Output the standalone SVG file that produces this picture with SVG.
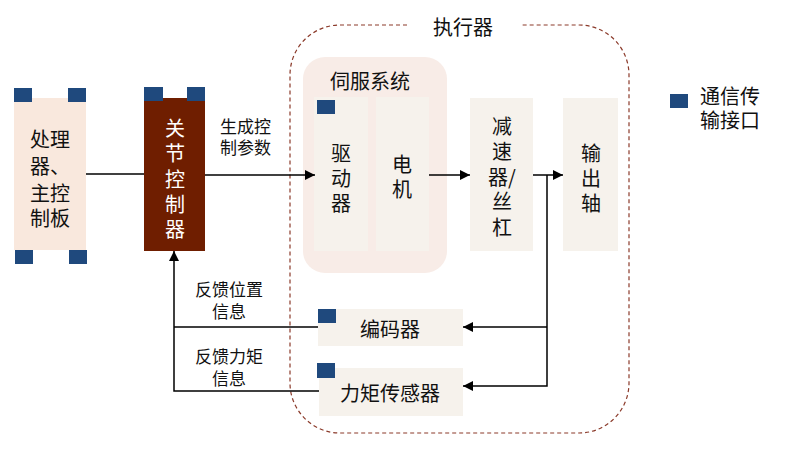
<svg xmlns="http://www.w3.org/2000/svg" width="785" height="451" viewBox="0 0 785 451">
<style>
text{font-family:"Noto Sans CJK SC","Noto Sans",sans-serif;fill:#111;text-anchor:middle;dominant-baseline:central}
.t20{font-size:20px}
.t18{font-size:17px}
.w{fill:#fff}
.port{fill:#1F497D}
.box{fill:#F6F2EC}
.ln{stroke:#000;stroke-width:1.5;fill:none}
</style>
<defs>
<marker id="ah" viewBox="0 0 10 10" refX="10" refY="5" markerWidth="10" markerHeight="10" markerUnits="userSpaceOnUse" orient="auto">
<path d="M0,0L10,5L0,10z" fill="#000"/>
</marker>
</defs>
<rect width="785" height="451" fill="#fff"/>
<g id="executor">
<path d="M407,25 H340 A50,50 0 0 0 290,75 V383 A50,50 0 0 0 340,433 H579 A50,50 0 0 0 629,383 V75 A50,50 0 0 0 579,25 H520" fill="none" stroke="#8B3A2A" stroke-width="1.2" stroke-dasharray="4,3"/>
<text class="t20" x="463" y="26">执行器</text>
</g>
<g id="main-controller">
<rect x="14" y="98" width="72" height="152" fill="#F9E8DD"/>
<rect class="port" x="14" y="88" width="18" height="14"/>
<rect class="port" x="68" y="88" width="18" height="14"/>
<rect class="port" x="15" y="250" width="18" height="14"/>
<rect class="port" x="69" y="250" width="18" height="14"/>
<text class="t20" x="50" y="138">处理<tspan x="50" dy="27">器、</tspan><tspan x="50" dy="27">主控</tspan><tspan x="50" dy="25">制板</tspan></text>
</g>
<g id="joint-controller">
<rect x="144" y="98" width="61" height="153" fill="#6F1E00"/>
<rect class="port" x="144" y="87" width="19" height="14"/>
<rect class="port" x="187" y="87" width="18" height="14"/>
<text class="t20 w" x="175" y="127">关<tspan x="175" dy="25">节</tspan><tspan x="175" dy="26">控</tspan><tspan x="175" dy="25">制</tspan><tspan x="175" dy="25">器</tspan></text>
</g>
<g id="servo-system">
<rect x="303" y="57" width="144" height="216" rx="22" fill="#F8ECE7"/>
<text class="t20" x="370" y="80">伺服系统</text>
</g>
<g id="driver">
<rect class="box" x="314" y="97" width="54" height="154"/>
<rect class="port" x="317" y="100" width="18" height="14"/>
<text class="t20" x="341" y="152">驱<tspan x="341" dy="25">动</tspan><tspan x="341" dy="25">器</tspan></text>
</g>
<g id="motor">
<rect class="box" x="376" y="97" width="53" height="154"/>
<text class="t20" x="402" y="163">电<tspan x="402" dy="25">机</tspan></text>
</g>
<g id="reducer">
<rect class="box" x="470" y="98" width="63" height="153"/>
<text class="t20" x="502" y="125">减<tspan x="502" dy="25">速</tspan><tspan x="502" dy="26">器/</tspan><tspan x="502" dy="24">丝</tspan><tspan x="502" dy="26">杠</tspan></text>
</g>
<g id="output-shaft">
<rect class="box" x="563" y="98" width="55" height="153"/>
<text class="t20" x="591" y="152">输<tspan x="591" dy="25">出</tspan><tspan x="591" dy="25">轴</tspan></text>
</g>
<g id="encoder">
<rect class="box" x="318" y="309" width="145" height="37"/>
<rect class="port" x="318" y="309" width="18" height="14"/>
<text class="t20" x="390" y="328">编码器</text>
</g>
<g id="torque-sensor">
<rect class="box" x="319" y="368" width="144" height="48"/>
<rect class="port" x="317" y="363" width="18" height="15"/>
<text class="t20" x="390" y="392">力矩传感器</text>
</g>
<g id="legend">
<rect class="port" x="670" y="94" width="18" height="14"/>
<text class="t20" x="700" y="95" style="text-anchor:start">通信传<tspan x="700" dy="24">输接口</tspan></text>
</g>
<g id="connectors">
<line class="ln" x1="86" y1="174" x2="144" y2="174"/>
<line class="ln" x1="205" y1="175" x2="315" y2="175" marker-end="url(#ah)"/>
<line class="ln" x1="429" y1="175" x2="470" y2="175" marker-end="url(#ah)"/>
<line class="ln" x1="533" y1="175" x2="563" y2="175" marker-end="url(#ah)"/>
<polyline class="ln" points="547,175 547,386 463,386" marker-end="url(#ah)"/>
<line class="ln" x1="547" y1="327" x2="463" y2="327" marker-end="url(#ah)"/>
<polyline class="ln" points="318,327 174,327"/>
<polyline class="ln" points="319,391 174,391 174,251" marker-end="url(#ah)"/>
<text class="t18" x="220" y="125" style="text-anchor:start">生成控<tspan x="220" dy="21">制参数</tspan></text>
<text class="t18" x="229" y="288">反馈位置<tspan x="229" dy="22">信息</tspan></text>
<text class="t18" x="229" y="355">反馈力矩<tspan x="229" dy="22">信息</tspan></text>
</g>
</svg>
